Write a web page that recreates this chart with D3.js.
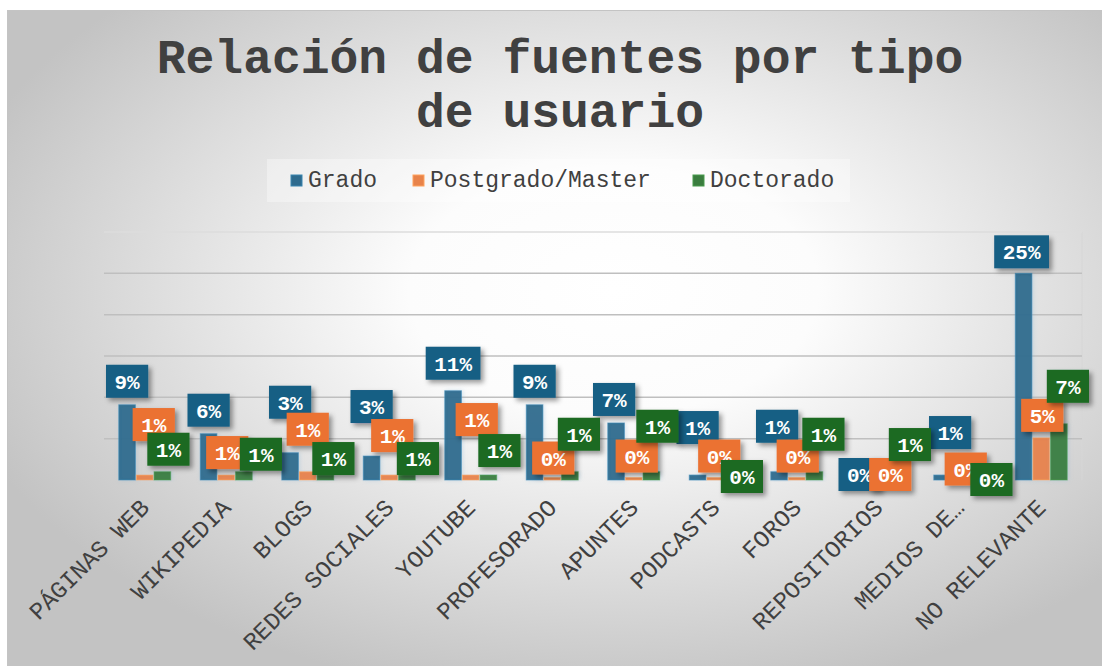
<!DOCTYPE html>
<html>
<head>
<meta charset="utf-8">
<script src="https://cdn.jsdelivr.net/npm/d3@7"></script>
<style>
  body { margin: 0; background: #fff; }
  svg { display: block; }
</style>
</head>
<body>
<div id="chart"></div>
<script>
// values in percent
const categories = ["PÁGINAS WEB", "WIKIPEDIA", "BLOGS", "REDES SOCIALES", "YOUTUBE", "PROFESORADO",
  "APUNTES", "PODCASTS", "FOROS", "REPOSITORIOS", "MEDIOS DE…", "NO RELEVANTE"];
const seriesNames = ["Grado", "Postgrado/Master", "Doctorado"];
const grado     = [9.1, 5.6, 3.3, 2.9, 10.8, 9.1, 6.9, 0.6, 1.0, 0.0, 0.6, 25.0];
const postgrado = [0.6, 0.6, 1.0, 0.6, 0.6, 0.3, 0.3, 0.3, 0.3, 0.0, 0.3, 5.1];
const doctorado = [1.0, 1.0, 0.6, 0.6, 0.6, 1.0, 1.0, 0.0, 1.0, 0.6, 0.0, 6.8];
const yTicks = [0, 5, 10, 15, 20, 25, 30];

// the data labels were dragged around by hand in the original, these are the nudges (px)
const gradoNudge = [[0,0],[0,0],[0,-27],[0,-26],[0,-4],[0,0],[-2,0],[0,-24],[-2,-22],[-1,18],[8,-19],[-2,2]];
const postNudge  = [[9,-27],[1,1],[0,-19],[3,-16],[6,-32],[1,4],[3,2],[4,2],[1,2],[12,18],[6,15],[1,1]];
const doctNudge  = [[6,1],[17,6],[8,7],[11,7],[11,-1],[9,-14],[6,-22],[9,20],[9,-14],[14,-7],[14,23],[9,-14]];

const barColors   = ["#2e6b8e", "#e8834a", "#3a7d3e"];
const labelColors = ["#175e84", "#eb7233", "#1b6b22"];

const W = 1102, H = 666;
const margin = {left: 104, right: 20, top: 232, bottom: 186};
const mono = "'Liberation Mono', 'DejaVu Sans Mono', monospace";

const svg = d3.select("#chart").append("svg")
  .attr("width", W).attr("height", H);

const defs = svg.append("defs");
const grad = defs.append("radialGradient").attr("id", "bg")
  .attr("cx", "0.55").attr("cy", "0.42").attr("r", "0.62");
grad.append("stop").attr("offset", "0").attr("stop-color", "#ffffff");
grad.append("stop").attr("offset", "0.3").attr("stop-color", "#fcfcfc");
grad.append("stop").attr("offset", "1").attr("stop-color", "#c3c3c3");

const shadow = defs.append("filter").attr("id", "shadow")
  .attr("x", "-30%").attr("y", "-30%").attr("width", "170%").attr("height", "170%");
shadow.append("feDropShadow").attr("dx", 3).attr("dy", 3).attr("stdDeviation", 2.5)
  .attr("flood-color", "#000").attr("flood-opacity", 0.4);

const barGlow = defs.append("filter").attr("id", "glow")
  .attr("x", "-50%").attr("y", "-20%").attr("width", "200%").attr("height", "140%");
barGlow.append("feDropShadow").attr("dx", 1).attr("dy", 0).attr("stdDeviation", 2)
  .attr("flood-color", "#7fb0d0").attr("flood-opacity", 0.35);

const blur = defs.append("filter").attr("id", "blur");
blur.append("feGaussianBlur").attr("stdDeviation", 2);

// chart frame with the radial shading
svg.append("rect")
  .attr("x", 7.5).attr("y", 10.5).attr("width", W).attr("height", H)
  .attr("fill", "url(#bg)").attr("stroke", "#c4c4c4");

// title
svg.append("text")
  .attr("x", 560).attr("y", 73)
  .attr("text-anchor", "middle")
  .style("font-family", mono).style("font-weight", "bold").style("font-size", "48px")
  .attr("fill", "#404040")
  .selectAll("tspan")
  .data(["Relación de fuentes por tipo", "de usuario"])
  .join("tspan")
  .attr("x", 560).attr("dy", (d, i) => i ? 54 : 0)
  .text(d => d);

// legend
const legend = svg.append("g");
legend.append("rect")
  .attr("x", 267).attr("y", 159).attr("width", 583).attr("height", 43)
  .attr("fill", "#fff").attr("opacity", 0.35);
const legendX = [291, 413, 693];
seriesNames.forEach((s, i) => {
  legend.append("rect")
    .attr("x", legendX[i]).attr("y", 175).attr("width", 11).attr("height", 11)
    .attr("fill", barColors[i]).attr("stroke", d3.color(barColors[i]).brighter(0.6)).attr("stroke-width", 1);
  legend.append("text")
    .attr("x", legendX[i] + 17).attr("y", 187)
    .style("font-family", mono).style("font-size", "23px")
    .attr("fill", "#404040")
    .text(s);
});

const x0 = d3.scaleBand()
  .domain(categories)
  .range([margin.left, W - margin.right])
  .paddingInner(0.35).paddingOuter(0.175);
const x1 = d3.scaleBand()
  .domain(seriesNames)
  .range([0, x0.bandwidth()]);
const y = d3.scaleLinear()
  .domain([0, 30])
  .range([H - margin.bottom, margin.top]);

const plotRight = W - margin.right;

// plot shadow on the right side
svg.append("line")
  .attr("x1", plotRight + 3).attr("x2", plotRight + 3)
  .attr("y1", y(30) + 4).attr("y2", y(0) + 4)
  .attr("stroke", "#000").attr("stroke-opacity", 0.25).attr("stroke-width", 4)
  .attr("filter", "url(#blur)");
svg.append("line")
  .attr("x1", plotRight).attr("x2", plotRight)
  .attr("y1", y(30)).attr("y2", y(0))
  .attr("stroke", "#d6d6d6").attr("stroke-width", 1);

// gridlines
svg.append("g")
  .selectAll("line")
  .data(yTicks.slice(1))
  .join("line")
  .attr("x1", margin.left).attr("x2", plotRight)
  .attr("y1", d => y(d)).attr("y2", d => y(d))
  .attr("stroke", d => d === 30 ? "#dcdcdc" : "#bfbfbf")
  .attr("stroke-width", 1.5);

// bars
const series = [grado, postgrado, doctorado];
const nudges = [gradoNudge, postNudge, doctNudge];
const bars = svg.append("g");
series.forEach((vals, si) => {
  bars.selectAll(null)
    .data(vals)
    .join("rect")
    .attr("x", (d, i) => x0(categories[i]) + x1(seriesNames[si]) + 0.5)
    .attr("width", x1.bandwidth() - 1)
    .attr("y", d => y(d))
    .attr("height", d => y(0) - y(d))
    .attr("fill", barColors[si])
    .attr("fill-opacity", 0.95)
    .attr("stroke", d3.color(barColors[si]).brighter(0.8))
    .attr("stroke-opacity", 0.6)
    .attr("stroke-width", 1)
    .attr("filter", "url(#glow)");
});

// base axis line
svg.append("line")
  .attr("x1", margin.left).attr("x2", plotRight)
  .attr("y1", y(0)).attr("y2", y(0))
  .attr("stroke", "#404040").attr("stroke-width", 4)
  .attr("filter", "url(#shadow)");

// category labels
const xAxis = d3.axisBottom(x0).tickSize(0).tickPadding(0);
const xg = svg.append("g")
  .attr("transform", `translate(0,${y(0)})`)
  .call(xAxis);
xg.select(".domain").remove();
xg.selectAll("text")
  .style("font-family", mono).style("font-size", "24px")
  .attr("fill", "#404040")
  .attr("text-anchor", "end")
  .attr("dy", 0).attr("y", 0)
  .attr("transform", "translate(6,29) rotate(-45)");

// data labels
const fmt = d3.format(".0%");
const labels = svg.append("g");
series.forEach((vals, si) => {
  vals.forEach((v, i) => {
    const t = fmt(v / 100);
    const w = t.length * 12.6 + 17;
    const cx = x0(categories[i]) + x1(seriesNames[si]) + x1.bandwidth() / 2 + nudges[si][i][0];
    const top = y(v) - 40 + nudges[si][i][1];
    const g = labels.append("g");
    g.append("rect")
      .attr("x", cx - w / 2).attr("y", top)
      .attr("width", w).attr("height", 33)
      .attr("fill", labelColors[si])
      .attr("filter", "url(#shadow)");
    g.append("text")
      .attr("x", cx).attr("y", top + 24)
      .attr("text-anchor", "middle")
      .style("font-family", mono).style("font-weight", "bold").style("font-size", "21px")
      .attr("fill", "#fff")
      .text(t);
  });
});
</script>
</body>
</html>
